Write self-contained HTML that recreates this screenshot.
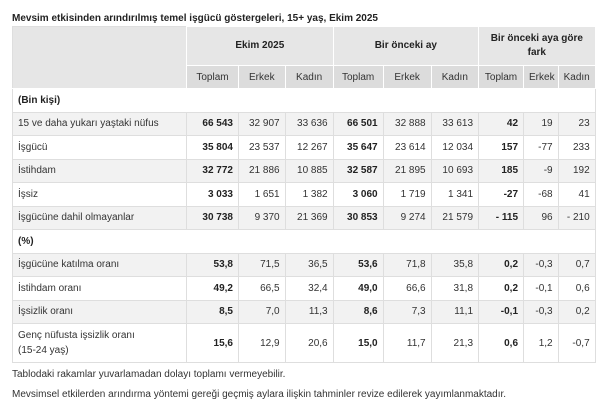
<!DOCTYPE html>
<html>
<head>
<meta charset="utf-8">
<style>
  html, body { margin:0; padding:0; background:#fff; }
  body { width:609px; height:406px; position:relative; overflow:hidden;
         font-family:"Liberation Sans", Arial, sans-serif; color:#333; }
  .title { position:absolute; left:12px; top:12px; font-size:10px; font-weight:bold; color:#222; line-height:13px; white-space:nowrap; }
  table { position:absolute; left:12px; top:26px; border-collapse:collapse; table-layout:fixed; width:583px; font-size:10px; }
  td, th { padding:0 5px; overflow:hidden; white-space:nowrap; }
  th { font-weight:bold; color:#222; }
  thead th { border:1px solid #fff; }
  thead tr.h1 th { background:#e6e6e6; height:38px; text-align:center; line-height:14px; }
  thead tr.h1 th.wrap { white-space:normal; }
  thead tr.h2 th { background:#dcdcdc; height:22px; font-weight:normal; color:#333; text-align:center; }
  tbody td { border:1px solid #dedede; height:22.5px; text-align:right; }
  tbody td:first-child { text-align:left; }
  tbody tr.g td { background:#f2f2f2; }
  tbody td.b { font-weight:bold; color:#222; }
  tbody tr.sec td { font-weight:bold; color:#222; }
  tbody tr.tall td { height:38px; line-height:15px; }
  thead th.first { background:#e6e6e6; border-left:1px solid #dedede; border-top:1px solid #dedede; }
  .note { position:absolute; left:12px; font-size:10px; color:#333; white-space:nowrap; line-height:12px; }
</style>
</head>
<body>
<div class="title">Mevsim etkisinden arındırılmış temel işgücü göstergeleri, 15+ yaş, Ekim 2025</div>
<table>
  <colgroup>
    <col style="width:174px"><col style="width:52px"><col style="width:46.6px"><col style="width:48px">
    <col style="width:50px"><col style="width:48px"><col style="width:47.4px">
    <col style="width:45px"><col style="width:34.6px"><col style="width:37px">
  </colgroup>
  <thead>
    <tr class="h1">
      <th class="first" rowspan="2"></th>
      <th colspan="3">Ekim 2025</th>
      <th colspan="3">Bir önceki ay</th>
      <th colspan="3" class="wrap">Bir önceki aya göre fark</th>
    </tr>
    <tr class="h2">
      <th>Toplam</th><th>Erkek</th><th>Kadın</th>
      <th>Toplam</th><th>Erkek</th><th>Kadın</th>
      <th>Toplam</th><th>Erkek</th><th>Kadın</th>
    </tr>
  </thead>
  <tbody>
    <tr class="sec"><td colspan="10">(Bin kişi)</td></tr>
    <tr class="g"><td>15 ve daha yukarı yaştaki nüfus</td><td class="b">66 543</td><td>32 907</td><td>33 636</td><td class="b">66 501</td><td>32 888</td><td>33 613</td><td class="b">42</td><td>19</td><td>23</td></tr>
    <tr><td>İşgücü</td><td class="b">35 804</td><td>23 537</td><td>12 267</td><td class="b">35 647</td><td>23 614</td><td>12 034</td><td class="b">157</td><td>-77</td><td>233</td></tr>
    <tr class="g"><td>İstihdam</td><td class="b">32 772</td><td>21 886</td><td>10 885</td><td class="b">32 587</td><td>21 895</td><td>10 693</td><td class="b">185</td><td>-9</td><td>192</td></tr>
    <tr><td>İşsiz</td><td class="b">3 033</td><td>1 651</td><td>1 382</td><td class="b">3 060</td><td>1 719</td><td>1 341</td><td class="b">-27</td><td>-68</td><td>41</td></tr>
    <tr class="g"><td>İşgücüne dahil olmayanlar</td><td class="b">30 738</td><td>9 370</td><td>21 369</td><td class="b">30 853</td><td>9 274</td><td>21 579</td><td class="b">- 115</td><td>96</td><td>- 210</td></tr>
    <tr class="sec"><td colspan="10">(%)</td></tr>
    <tr class="g"><td>İşgücüne katılma oranı</td><td class="b">53,8</td><td>71,5</td><td>36,5</td><td class="b">53,6</td><td>71,8</td><td>35,8</td><td class="b">0,2</td><td>-0,3</td><td>0,7</td></tr>
    <tr><td>İstihdam oranı</td><td class="b">49,2</td><td>66,5</td><td>32,4</td><td class="b">49,0</td><td>66,6</td><td>31,8</td><td class="b">0,2</td><td>-0,1</td><td>0,6</td></tr>
    <tr class="g"><td>İşsizlik oranı</td><td class="b">8,5</td><td>7,0</td><td>11,3</td><td class="b">8,6</td><td>7,3</td><td>11,1</td><td class="b">-0,1</td><td>-0,3</td><td>0,2</td></tr>
    <tr class="tall"><td>Genç nüfusta işsizlik oranı<br>(15-24 yaş)</td><td class="b">15,6</td><td>12,9</td><td>20,6</td><td class="b">15,0</td><td>11,7</td><td>21,3</td><td class="b">0,6</td><td>1,2</td><td>-0,7</td></tr>
  </tbody>
</table>
<div class="note" style="top:369px">Tablodaki rakamlar yuvarlamadan dolayı toplamı vermeyebilir.</div>
<div class="note" style="top:389px">Mevsimsel etkilerden arındırma yöntemi gereği geçmiş aylara ilişkin tahminler revize edilerek yayımlanmaktadır.</div>
</body>
</html>
